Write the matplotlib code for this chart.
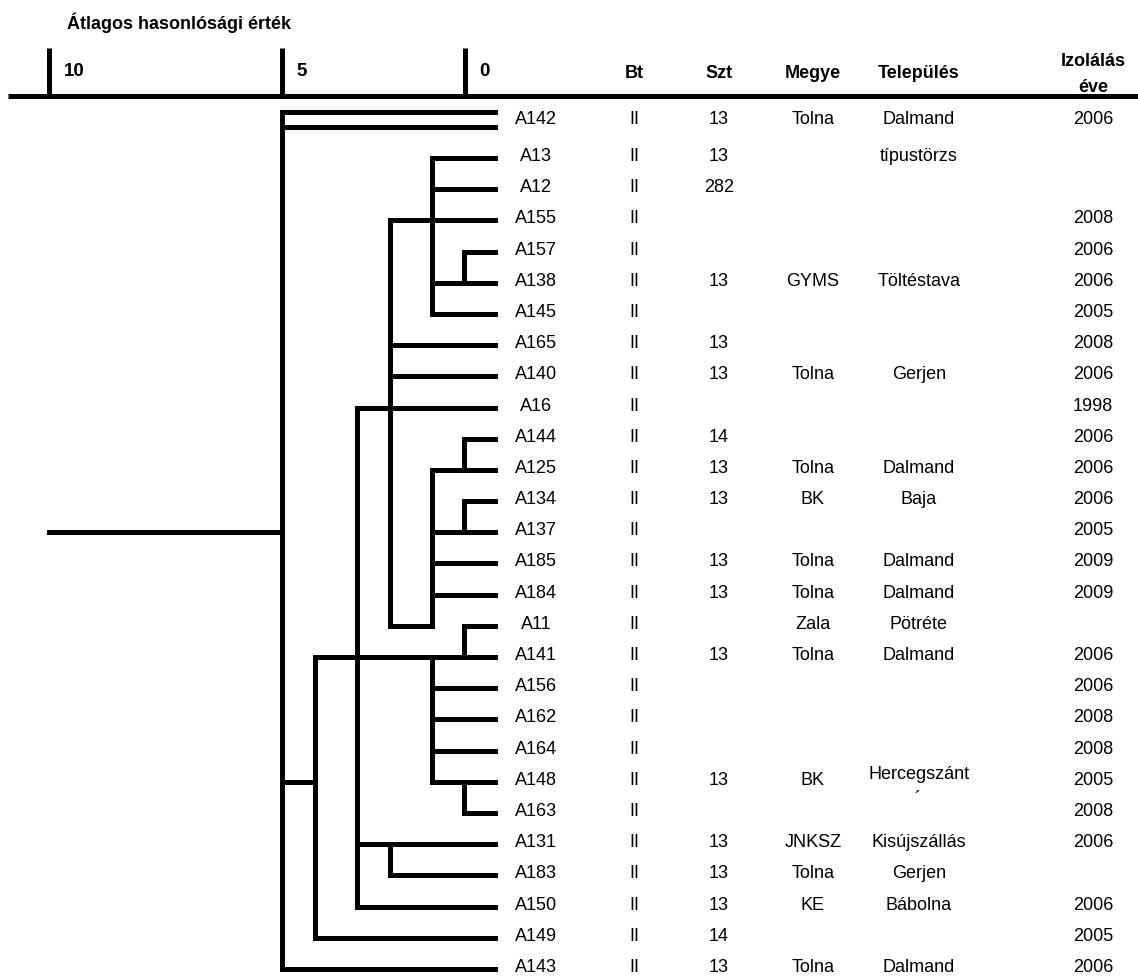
import matplotlib.pyplot as plt

plt.rcParams['font.family'] = ['Liberation Sans', 'DejaVu Sans']

# table columns (row 0 is A142, drawn with a double line)
strains = ['A142', 'A13', 'A12', 'A155', 'A157', 'A138', 'A145', 'A165', 'A140',
           'A16', 'A144', 'A125', 'A134', 'A137', 'A185', 'A184', 'A11', 'A141',
           'A156', 'A162', 'A164', 'A148', 'A163', 'A131', 'A183', 'A150', 'A149',
           'A143']
bt = ['II'] * 28
szt = ['13', '13', '282', '', '', '13', '', '13', '13', '', '14', '13', '13', '',
       '13', '13', '', '13', '', '', '', '13', '', '13', '13', '13', '14', '13']
megye = ['Tolna', '', '', '', '', 'GYMS', '', '', 'Tolna', '', '', 'Tolna', 'BK', '',
         'Tolna', 'Tolna', 'Zala', 'Tolna', '', '', '', 'BK', '', 'JNKSZ', 'Tolna',
         'KE', '', 'Tolna']
telepules = ['Dalmand', 'típustörzs', '', '', '', 'Töltéstava', '', '', 'Gerjen', '',
             '', 'Dalmand', 'Baja', '', 'Dalmand', 'Dalmand', 'Pötréte', 'Dalmand',
             '', '', '', 'Hercegszánt', '', 'Kisújszállás', 'Gerjen', 'Bábolna', '',
             'Dalmand']
ev = ['2006', '', '', '2008', '2006', '2006', '2005', '2008', '2006', '1998', '2006',
      '2006', '2006', '2005', '2009', '2009', '', '2006', '2006', '2008', '2008',
      '2005', '2008', '2006', '', '2006', '2005', '2006']

headers = ['Bt', 'Szt', 'Megye', 'Település', 'Izolálás\néve']
scale_labels = ['10', '5', '0']
scale_x = [49.5, 282, 465]

# clusters: level (x), members (leaf rows or cluster names), row where it hangs on its parent
clusters = {
    'a': (464, [4, 5], 5),
    'b': (432, [1, 2, 3, 'a', 6], 3),
    'c': (464, [10, 11], 11),
    'd': (464, [12, 13], 13),
    'e': (432, ['c', 'd', 14, 15], 16),
    'f': (390, ['b', 7, 8, 'e'], 9),
    'h': (464, [16, 17], 17),
    'i': (464, [21, 22], 21),
    'j': (432, ['h', 18, 19, 20, 'i'], 17),
    'k': (390, [23, 24], 23),
    'g': (357, [9, 'f', 'k', 25], 17),
    'l': (315, ['j', 'g', 26], 21),
    'root': (282, [-0.49, 0, 'l', 27], 13),
}
root_start = 49.5
leaf_tip = 495.5

# layout in pixel units
y_first, dy = 158, 31.19


def row_y(r):
    return y_first + (r - 1) * dy


fig = plt.figure(figsize=(11.38, 9.76), dpi=100)
ax = fig.add_axes([0, 0, 1, 1])
ax.set_xlim(0, 1138)
ax.set_ylim(976, 0)
ax.axis('off')

lw = 3.6
kw = dict(color='black', lw=lw, solid_capstyle='projecting')

# dendrogram
for name, (x, members, hang) in clusters.items():
    rows = [hang]
    for m in members:
        if isinstance(m, str):
            cx, _, cr = clusters[m]
        else:
            cx, cr = leaf_tip, m
        rows.append(cr)
        ax.plot([x, cx], [row_y(cr), row_y(cr)], **kw)
    ax.plot([x, x], [row_y(min(rows)), row_y(max(rows))], **kw)

rx, _, rr = clusters['root']
ax.plot([root_start, rx], [row_y(rr), row_y(rr)], **kw)

# scale bar
ax.plot([8, 1138], [96, 96], color='black', lw=lw, solid_capstyle='butt')
for sx, lab in zip(scale_x, scale_labels):
    ax.plot([sx, sx], [48, 96], color='black', lw=lw, solid_capstyle='butt')
    ax.text(sx + 14, 72, lab, fontsize=13.5, fontweight='bold', va='center', ha='left')

ax.text(67, 23, 'Átlagos hasonlósági érték', fontsize=13, fontweight='bold',
        va='center', ha='left')

# column headers
col_x = [536, 634, 719, 813, 919, 1093]
for hx, h in zip(col_x[1:], headers):
    if '\n' in h:
        top, bottom = h.split('\n')
        ax.text(hx, 62, top, fontsize=13, fontweight='bold', ha='center', va='center')
        ax.text(hx, 87, bottom, fontsize=13, fontweight='bold', ha='center', va='center')
    else:
        ax.text(hx, 74, h, fontsize=13, fontweight='bold', ha='center', va='center')

# table rows
for i in range(len(strains)):
    ty = (row_y(-0.2) if i == 0 else row_y(i)) - 1.5
    cols = [strains[i], bt[i], szt[i], megye[i], telepules[i], ev[i]]
    for cx, val in zip(col_x, cols):
        if not val:
            continue
        yy = ty - 6 if val == 'Hercegszánt' else ty
        ax.text(cx, yy, val, fontsize=13, ha='center', va='center')
    if telepules[i] == 'Hercegszánt':
        ax.text(col_x[4] - 2, ty + 19, '´', fontsize=13, ha='center', va='center')

fig.savefig('out.png', dpi=100)
